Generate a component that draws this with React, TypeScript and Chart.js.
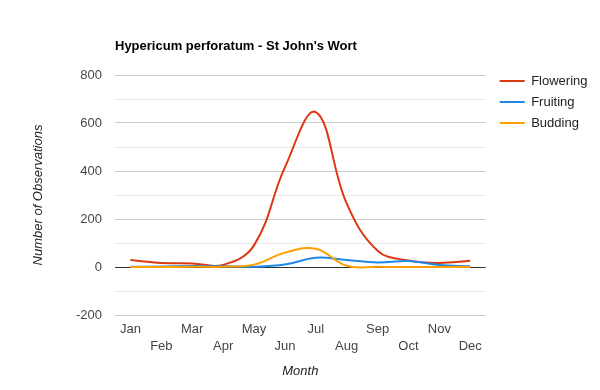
import React, { useEffect, useRef } from "react";
import { Chart, registerables } from "chart.js";

Chart.register(...registerables);

const TITLE = "Hypericum perforatum - St John's Wort";
const months = ["Jan", "Feb", "Mar", "Apr", "May", "Jun", "Jul", "Aug", "Sep", "Oct", "Nov", "Dec"];
const flowering = [29, 17, 15, 9, 90, 415, 645, 265, 68, 27, 17, 26];
const fruiting = [1, 2, 4, 3, 1, 10, 39, 29, 19, 25, 8, 3];
const budding = [0, 0, 1, 1, 10, 60, 76, 5, 1, 0, 0, 0];
const yMin = -200;
const yMax = 800;
const yStep = 100;

const FONT = 'Arial, "Liberation Sans", sans-serif';

export default function App() {
  const ref = useRef<HTMLCanvasElement | null>(null);

  useEffect(() => {
    if (!ref.current) return;
    const tickLabels = months.map((m, i) => (i % 2 === 0 ? [m, ""] : ["", m]));
    const chart = new Chart(ref.current, {
      type: "line",
      data: {
        labels: tickLabels,
        datasets: [
          { label: "Flowering", data: flowering, borderColor: "#dc3912", backgroundColor: "#dc3912", order: 2 },
          { label: "Fruiting", data: fruiting, borderColor: "#1e88e5", backgroundColor: "#1e88e5", order: 1 },
          { label: "Budding", data: budding, borderColor: "#ffa000", backgroundColor: "#ffa000", order: 0 },
        ].map((d) => ({ ...d, borderWidth: 2, pointRadius: 0, pointHoverRadius: 0, tension: 0.4, fill: false })),
      },
      options: {
        animation: false,
        responsive: false,
        maintainAspectRatio: false,
        events: [],
        layout: { padding: { left: 0, right: 10, top: 0, bottom: 0 } },
        plugins: {
          title: {
            display: true,
            text: TITLE,
            align: "start",
            fullSize: false,
            color: "#000",
            font: { family: FONT, size: 13, weight: "bold" },
            padding: { top: 38.8, bottom: 20.6 },
          },
          legend: {
            position: "right",
            align: "start",
            title: { display: true, text: "", padding: { top: 51, bottom: 0 }, font: { family: FONT, size: 13 } },
            labels: {
              usePointStyle: true,
              pointStyle: "line",
              pointStyleWidth: 25,
              padding: 8,
              color: "#222",
              font: { family: FONT, size: 13 },
              sort: (a: any, b: any) => a.datasetIndex - b.datasetIndex,
            },
          },
          tooltip: { enabled: false },
        },
        scales: {
          x: {
            type: "category",
            offset: true,
            afterFit: (s: any) => {
              s.height = 75;
            },
            grid: { display: false, drawTicks: false },
            border: { display: false },
            ticks: {
              autoSkip: false,
              maxRotation: 0,
              minRotation: 0,
              padding: 6,
              color: "#444",
              font: { family: FONT, size: 13, lineHeight: 17 / 13 },
            },
            title: {
              display: true,
              text: "Month",
              color: "#222",
              font: { family: FONT, size: 13, style: "italic" },
              padding: { top: 0, bottom: 11.2 },
            },
          },
          y: {
            type: "linear",
            min: yMin,
            max: yMax,
            afterFit: (s: any) => {
              s.width = 115;
            },
            border: { display: false },
            grid: {
              drawTicks: false,
              lineWidth: 1,
              color: (ctx: any) => {
                const v = ctx.tick ? ctx.tick.value : 1;
                if (v === 0) return "#333333";
                return v % 200 === 0 ? "#cccccc" : "#ebebeb";
              },
            },
            ticks: {
              stepSize: yStep,
              autoSkip: false,
              padding: 13,
              color: "#444",
              font: { family: FONT, size: 13 },
              callback: (v: any) => (Number(v) % 200 === 0 ? String(v) : ""),
            },
            title: {
              display: true,
              text: "Number of Observations",
              color: "#222",
              font: { family: FONT, size: 13, style: "italic" },
              padding: { top: 30.5, bottom: 0 },
            },
          },
          gap: {
            type: "linear",
            position: "right",
            display: true,
            grid: { display: false, drawTicks: false },
            border: { display: false },
            ticks: { display: false },
            afterFit: (s: any) => {
              s.width = 6;
            },
          },
        },
      } as any,
    });
    return () => chart.destroy();
  }, []);

  return (
    <div style={{ position: "absolute", left: 0, top: 0, width: 600, height: 390, background: "#fff" }}>
      <canvas ref={ref} width={600} height={390} style={{ display: "block" }} />
    </div>
  );
}
